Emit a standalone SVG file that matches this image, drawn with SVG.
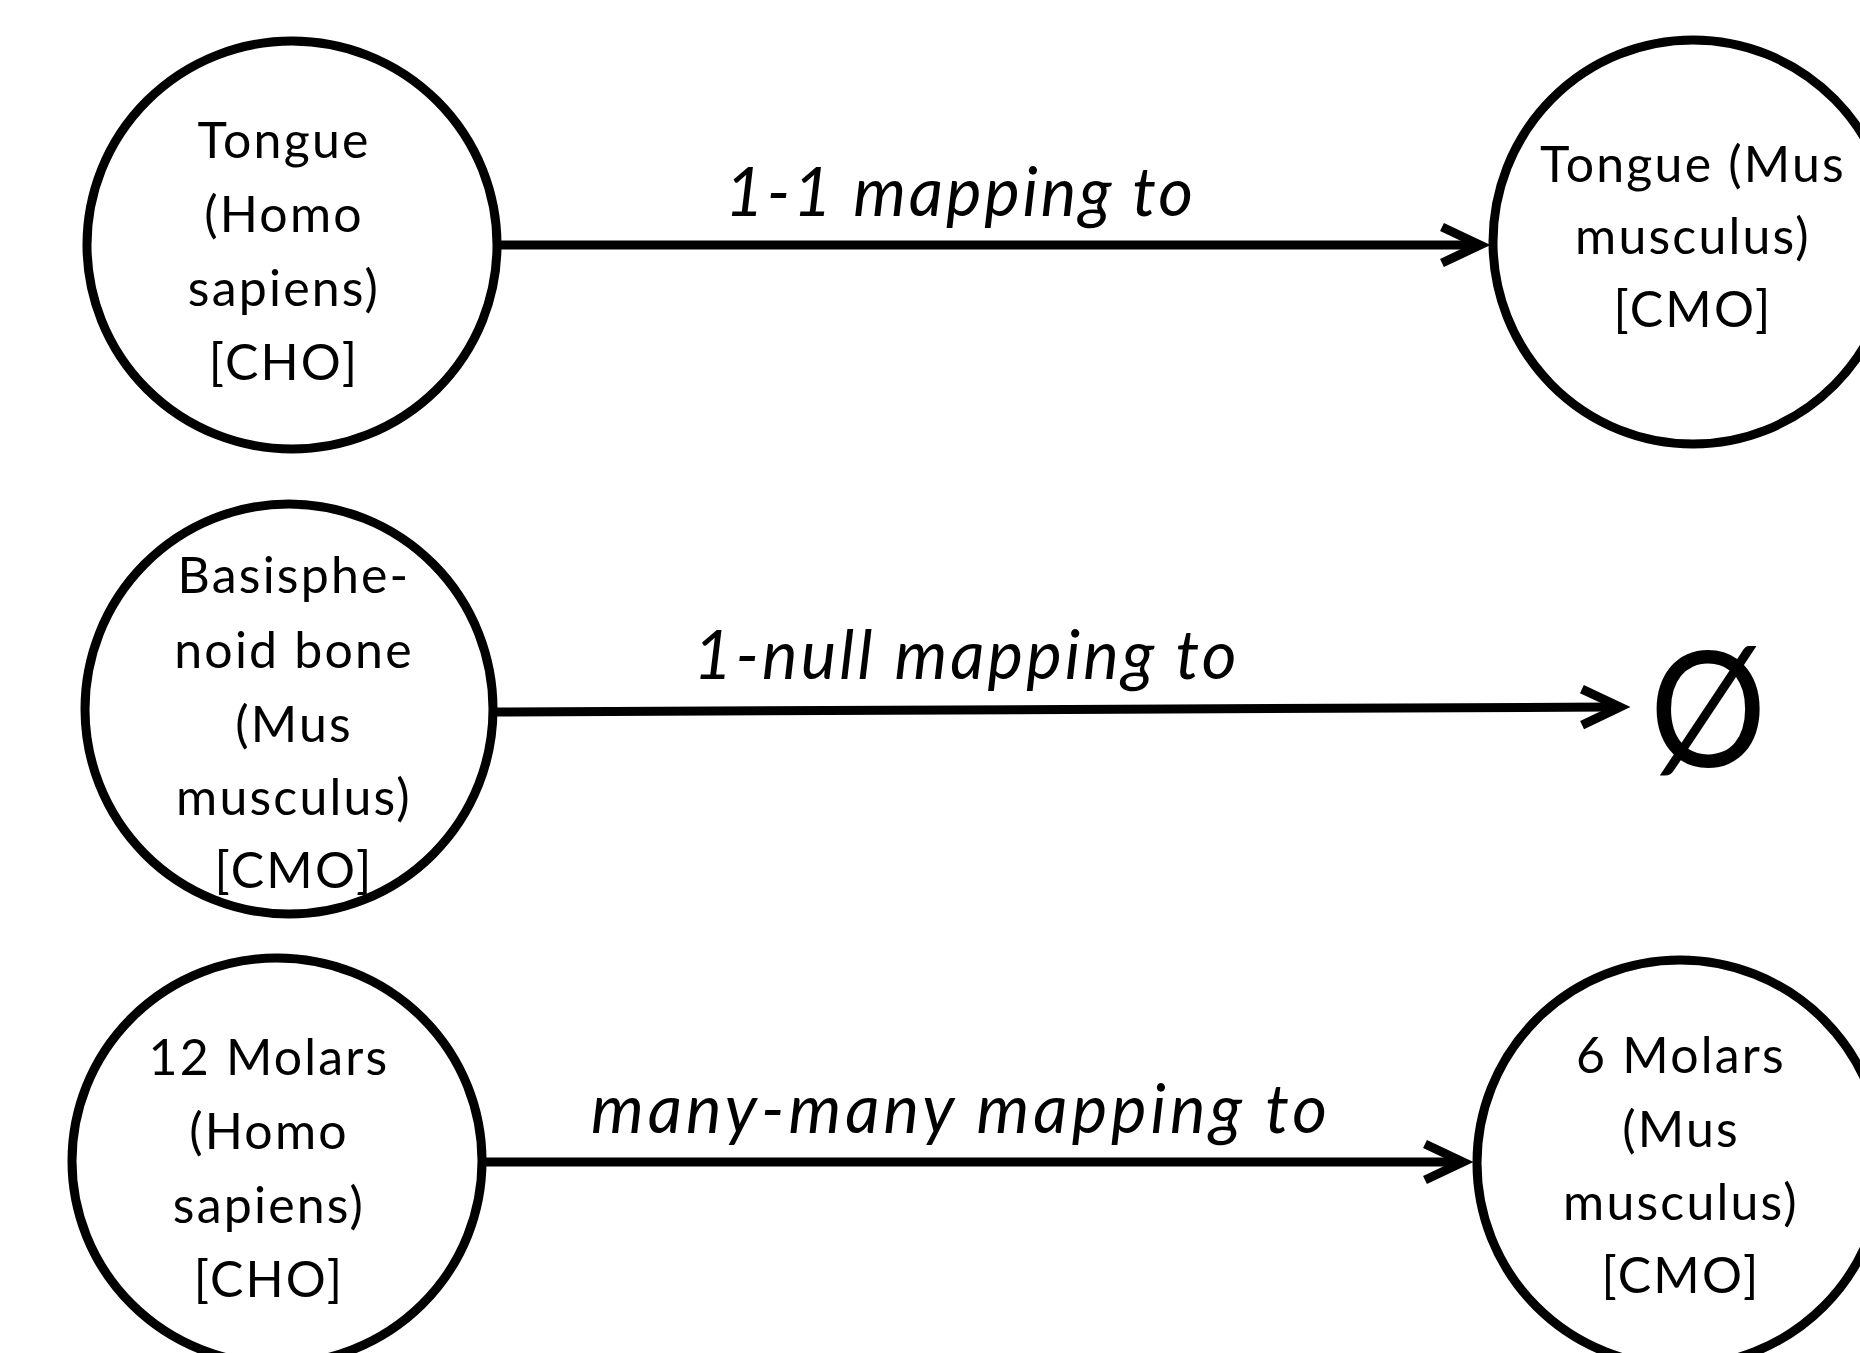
<svg xmlns="http://www.w3.org/2000/svg" width="1860" height="1353" viewBox="0 0 1860 1353">
  <style>
    .node { fill: #ffffff; stroke: #000000; stroke-width: 9; }
    .nt { font-family: Lato, "Liberation Sans", sans-serif; font-size: 50px; letter-spacing: 2.2px; fill: #000000; text-anchor: middle; }
    .lbl { font-family: Lato, "Liberation Sans", sans-serif; font-style: italic; font-size: 67px; fill: #000000; text-anchor: middle; }
    .edge { fill: none; stroke: #000000; stroke-width: 9; marker-end: url(#chev); }
    .null { font-family: Lato, "Liberation Sans", sans-serif; font-size: 162px; fill: #000000; text-anchor: middle; }
  </style>
  <defs>
    <marker id="chev" markerUnits="userSpaceOnUse" markerWidth="80" markerHeight="60" refX="40" refY="30" orient="auto" overflow="visible">
      <path d="M12 12 L50 30 L12 48" fill="none" stroke="#000000" stroke-width="9" stroke-linejoin="miter" stroke-miterlimit="10"/>
    </marker>
  </defs>
  <rect width="1860" height="1353" fill="#ffffff"/>

  <g id="connectors">
    <line class="edge" x1="497" y1="245" x2="1470" y2="245"/>
    <line class="edge" x1="493" y1="712" x2="1610" y2="707"/>
    <line class="edge" x1="482" y1="1162" x2="1453" y2="1162"/>
    <text class="lbl" x="959" y="216" textLength="468" lengthAdjust="spacing">1-1 mapping to</text>
    <text class="lbl" x="965" y="679" textLength="543" lengthAdjust="spacing">1-null mapping to</text>
    <text class="lbl" x="959" y="1133" textLength="736" lengthAdjust="spacing">many-many mapping to</text>
  </g>

  <g id="tongue-homo">
    <ellipse class="node" cx="292" cy="245" rx="205" ry="204"/>
    <text class="nt" x="284" y="158">Tongue</text>
    <text class="nt" x="284" y="232">(Homo</text>
    <text class="nt" x="284" y="306">sapiens)</text>
    <text class="nt" x="284" y="380">[CHO]</text>
  </g>

  <g id="tongue-mus">
    <ellipse class="node" cx="1693" cy="242" rx="200" ry="202"/>
    <text class="nt" x="1693" y="182">Tongue (Mus</text>
    <text class="nt" x="1693" y="254">musculus)</text>
    <text class="nt" x="1693" y="327">[CMO]</text>
  </g>

  <g id="basisphenoid-mus">
    <ellipse class="node" cx="289" cy="709" rx="204" ry="205"/>
    <text class="nt" x="294" y="593">Basisphe-</text>
    <text class="nt" x="294" y="668">noid bone</text>
    <text class="nt" x="294" y="742">(Mus</text>
    <text class="nt" x="294" y="815">musculus)</text>
    <text class="nt" x="294" y="888">[CMO]</text>
  </g>

  <g id="null-set">
    <text class="null" transform="translate(1708,767) scale(0.9,1)" x="0" y="0">Ø</text>
  </g>

  <g id="molars-homo">
    <ellipse class="node" cx="277" cy="1161" rx="205" ry="203"/>
    <text class="nt" x="269" y="1075">12 Molars</text>
    <text class="nt" x="269" y="1149">(Homo</text>
    <text class="nt" x="269" y="1223">sapiens)</text>
    <text class="nt" x="269" y="1297">[CHO]</text>
  </g>

  <g id="molars-mus">
    <ellipse class="node" cx="1680" cy="1163" rx="203" ry="203"/>
    <text class="nt" x="1681" y="1073">6 Molars</text>
    <text class="nt" x="1681" y="1147">(Mus</text>
    <text class="nt" x="1681" y="1220">musculus)</text>
    <text class="nt" x="1681" y="1293">[CMO]</text>
  </g>
</svg>
